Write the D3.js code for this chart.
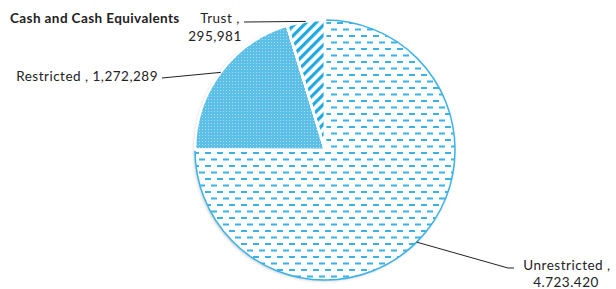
<!DOCTYPE html>
<html>
<head>
<meta charset="utf-8">
<script src="https://cdn.jsdelivr.net/npm/d3@7"></script>
<style>
  body { margin: 0; background: #fff; }
  text { font-family: Lato, "Open Sans", sans-serif; fill: #222; }
</style>
</head>
<body>
<script>
var categories = ["Unrestricted", "Restricted", "Trust"];
var values = [4723420, 1272289, 295981];
var valueLabels = ["4.723.420", "1,272,289", "295,981"];

var w = 616;
var h = 289;
var cx = 325, cy = 150, r = 130;

var svg = d3.select("body").append("svg")
    .attr("width", w)
    .attr("height", h);

var defs = svg.append("defs");

// dashed rows for Unrestricted
var pDash = defs.append("pattern")
    .attr("id", "dash")
    .attr("patternUnits", "userSpaceOnUse")
    .attr("width", 12).attr("height", 13);
pDash.append("rect").attr("width", 12).attr("height", 13).attr("fill", "#fff");
pDash.append("rect").attr("x", 0).attr("y", 2).attr("width", 6).attr("height", 2).attr("fill", "#3ab2e5");
pDash.append("rect").attr("x", 6).attr("y", 8.5).attr("width", 6).attr("height", 2).attr("fill", "#3ab2e5");

// fine dotted grid for Restricted
var pDot = defs.append("pattern")
    .attr("id", "dot")
    .attr("patternUnits", "userSpaceOnUse")
    .attr("width", 3).attr("height", 3);
pDot.append("rect").attr("width", 3).attr("height", 3).attr("fill", "#5cbfe8");
pDot.append("rect").attr("width", 1).attr("height", 1).attr("fill", "#a9ddf3");

// diagonal stripes for Trust
var pStripe = defs.append("pattern")
    .attr("id", "stripe")
    .attr("patternUnits", "userSpaceOnUse")
    .attr("width", 7).attr("height", 7)
    .attr("patternTransform", "rotate(45)");
pStripe.append("rect").attr("width", 7).attr("height", 7).attr("fill", "#fff");
pStripe.append("rect").attr("width", 3.2).attr("height", 7).attr("fill", "#1fa8e1");

var shadow = defs.append("filter").attr("id", "shadow")
    .attr("x", "-10%").attr("y", "-10%").attr("width", "120%").attr("height", "120%");
shadow.append("feDropShadow")
    .attr("dx", -1).attr("dy", 1).attr("stdDeviation", 1.5)
    .attr("flood-color", "#000").attr("flood-opacity", 0.25);

var fills = ["url(#dash)", "url(#dot)", "url(#stripe)"];

var pie = d3.pie().sort(null).value(function(d) { return d; });
var arcs = pie(values);
var arc = d3.arc().innerRadius(0).outerRadius(r);

var g = svg.append("g").attr("transform", "translate(" + cx + "," + cy + ")");

// soft shadow under the whole pie
g.append("circle").attr("r", r).attr("fill", "#fff").attr("filter", "url(#shadow)");

g.selectAll("path.slice")
    .data(arcs)
    .enter()
    .append("path")
    .attr("class", "slice")
    .attr("d", arc)
    .attr("fill", function(d, i) { return fills[i]; })
    .attr("stroke", function(d, i) { return i == 0 ? "#3cb3e6" : "#fff"; })
    .attr("stroke-width", function(d, i) { return i == 0 ? 1.5 : 2.5; });

// white gaps between slices
g.selectAll("path.sep")
    .data(arcs.slice(1))
    .enter()
    .append("path")
    .attr("class", "sep")
    .attr("d", function(d) {
        return "M0,0L" + d3.pointRadial(d.startAngle, r).join(",") +
               "M0,0L" + d3.pointRadial(d.endAngle, r).join(",");
    })
    .attr("stroke", "#fff")
    .attr("stroke-width", 2.5);

// title
svg.append("text")
    .attr("x", 10).attr("y", 23)
    .attr("font-size", "13.5px")
    .attr("letter-spacing", "0.4px")
    .attr("font-weight", "bold")
    .text("Cash and Cash Equivalents");

// leader lines
function mid(d) { return (d.startAngle + d.endAngle) / 2; }
var edge = arcs.map(function(d) {
    var p = d3.pointRadial(mid(d), r);
    return [p[0] + cx, p[1] + cy];
});

var leaders = [
    [edge[0], [508, 268], [514, 268]],
    [edge[1], [162, 78]],
    [edge[2], [244, 22]]
];
var line = d3.line();
svg.selectAll("path.leader")
    .data(leaders)
    .enter()
    .append("path")
    .attr("class", "leader")
    .attr("d", line)
    .attr("fill", "none")
    .attr("stroke", "#222")
    .attr("stroke-width", 1);

// labels
var lab = svg.append("g").attr("font-size", "13.5px").attr("letter-spacing", "0.5px");
lab.append("text").attr("x", 567).attr("y", 270).attr("text-anchor", "middle")
    .text(categories[0] + " ,");
lab.append("text").attr("x", 566).attr("y", 287).attr("text-anchor", "middle")
    .text(valueLabels[0]);
lab.append("text").attr("x", 158).attr("y", 81).attr("text-anchor", "end")
    .text(categories[1] + " , " + valueLabels[1]);
lab.append("text").attr("x", 220).attr("y", 23).attr("text-anchor", "middle")
    .text(categories[2] + " ,");
lab.append("text").attr("x", 215).attr("y", 41).attr("text-anchor", "middle")
    .text(valueLabels[2]);
</script>
</body>
</html>
